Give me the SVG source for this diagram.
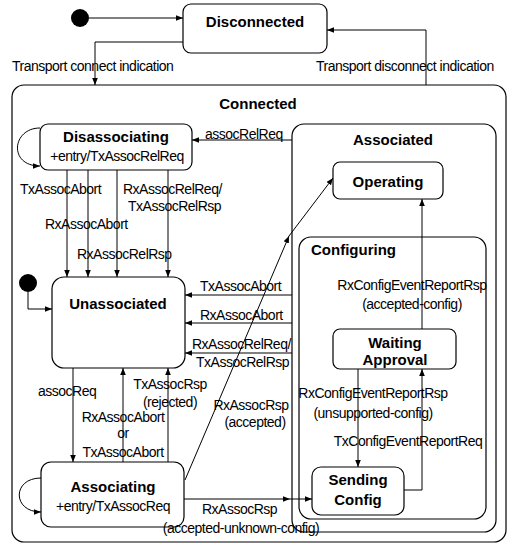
<svg xmlns="http://www.w3.org/2000/svg" width="512" height="547" viewBox="0 0 512 547">
<style>
.st{fill:#fff;stroke:#000;stroke-width:1.2}
.dot{fill:#000}
.c{fill:none;stroke:#000;stroke-width:1}
.t{font-family:"Liberation Sans",Arial,sans-serif;font-size:14px;fill:#000;letter-spacing:-0.5px}
.b{font-family:"Liberation Sans",Arial,sans-serif;font-size:15px;font-weight:bold;fill:#000}
.m{text-anchor:middle}
</style>
<defs>
<marker id="ah" viewBox="0 0 10 10" refX="10" refY="5" markerWidth="7" markerHeight="7" orient="auto" markerUnits="userSpaceOnUse">
<path d="M0,1 L10,5 L0,9 Z" fill="#000"/>
</marker>
</defs>
<rect width="512" height="547" fill="#fff"/>

<g id="connected">
<rect class="st" x="12" y="85" width="494" height="457" rx="12"/>
<text class="b m" x="258" y="109">Connected</text>
</g>
<g id="associated">
<rect class="st" x="292" y="124" width="204" height="408" rx="12"/>
<text class="b m" x="393" y="145">Associated</text>
</g>
<g id="configuring">
<rect class="st" x="299" y="237" width="187" height="282" rx="12"/>
<text class="b" x="311" y="255">Configuring</text>
</g>

<g id="initial1"><circle class="dot" cx="80" cy="18" r="9"/></g>
<g id="disconnected">
<rect class="st" x="183" y="4" width="144" height="49" rx="8"/>
<text class="b m" x="255" y="27">Disconnected</text>
</g>
<g id="disassociating">
<rect class="st" x="40" y="124" width="152" height="46" rx="8"/>
<text class="b m" x="116" y="142">Disassociating</text>
<text class="t m" x="117" y="161">+entry/TxAssocRelReq</text>
</g>
<g id="operating">
<rect class="st" x="333" y="162" width="110" height="37" rx="7"/>
<text class="b m" x="388" y="187">Operating</text>
</g>
<g id="initial2"><circle class="dot" cx="28" cy="283" r="9"/></g>
<g id="unassociated">
<rect class="st" x="52" y="277" width="133" height="91" rx="12"/>
<text class="b m" x="118" y="309">Unassociated</text>
</g>
<g id="waitingApproval">
<rect class="st" x="333" y="329" width="123" height="40" rx="7"/>
<text class="b m" x="395" y="348">Waiting</text>
<text class="b m" x="395" y="365">Approval</text>
</g>
<g id="associating">
<rect class="st" x="41" y="462" width="143" height="65" rx="10"/>
<text class="b m" x="113" y="492">Associating</text>
<text class="t m" x="113" y="511">+entry/TxAssocReq</text>
</g>
<g id="sendingConfig">
<rect class="st" x="312" y="467" width="92" height="48" rx="9"/>
<text class="b m" x="358" y="485">Sending</text>
<text class="b m" x="358" y="505">Config</text>
</g>

<g id="connectors">
<path class="c" d="M89,18 H183" marker-end="url(#ah)"/>
<path class="c" d="M183,42 H95 V85" marker-end="url(#ah)"/>
<path class="c" d="M426,85 V30 H327" marker-end="url(#ah)"/>
<path class="c" d="M40,128 C12,128 8,166 40,166" marker-end="url(#ah)"/>
<path class="c" d="M292,140 H192" marker-end="url(#ah)"/>
<path class="c" d="M67,170 V277" marker-end="url(#ah)"/>
<path class="c" d="M88,170 V277" marker-end="url(#ah)"/>
<path class="c" d="M117,170 V277" marker-end="url(#ah)"/>
<path class="c" d="M168,170 V277" marker-end="url(#ah)"/>
<path class="c" d="M28,292 V309 H52" marker-end="url(#ah)"/>
<path class="c" d="M292,295 H185" marker-end="url(#ah)"/>
<path class="c" d="M292,323 H185" marker-end="url(#ah)"/>
<path class="c" d="M292,353 H185" marker-end="url(#ah)"/>
<path class="c" d="M73,368 V462" marker-end="url(#ah)"/>
<path class="c" d="M123,462 V368" marker-end="url(#ah)"/>
<path class="c" d="M168,462 V368" marker-end="url(#ah)"/>
<path class="c" d="M41,478 C12,478 12,512 41,512" marker-end="url(#ah)"/>
<path class="c" d="M185,480 L289,236" marker-end="url(#ah)"/>
<path class="c" d="M289,236 L333,178" marker-end="url(#ah)"/>
<path class="c" d="M184,499 H290" marker-end="url(#ah)"/>
<path class="c" d="M290,499 H312" marker-end="url(#ah)"/>
<path class="c" d="M422,329 V199" marker-end="url(#ah)"/>
<path class="c" d="M358,369 V467" marker-end="url(#ah)"/>
<path class="c" d="M404,490 H422 V369" marker-end="url(#ah)"/>

<text class="t" x="12" y="71">Transport connect indication</text>
<text class="t" x="316" y="71">Transport disconnect indication</text>
<text class="t" x="205" y="139">assocRelReq</text>
<text class="t" x="20" y="194">TxAssocAbort</text>
<text class="t" x="123" y="194">RxAssocRelReq/</text>
<text class="t" x="128" y="211">TxAssocRelRsp</text>
<text class="t" x="45" y="229">RxAssocAbort</text>
<text class="t" x="77" y="259">RxAssocRelRsp</text>
<text class="t" x="200" y="291">TxAssocAbort</text>
<text class="t" x="200" y="320">RxAssocAbort</text>
<text class="t" x="192" y="349">RxAssocRelReq/</text>
<text class="t" x="196" y="367">TxAssocRelRsp</text>
<text class="t m" x="412" y="290">RxConfigEventReportRsp</text>
<text class="t m" x="412" y="309">(accepted-config)</text>
<text class="t m" x="373" y="398">RxConfigEventReportRsp</text>
<text class="t m" x="373" y="418">(unsupported-config)</text>
<text class="t m" x="408" y="446">TxConfigEventReportReq</text>
<text class="t" x="38" y="396">assocReq</text>
<text class="t m" x="170" y="389">TxAssocRsp</text>
<text class="t m" x="170" y="407">(rejected)</text>
<text class="t m" x="251" y="410">RxAssocRsp</text>
<text class="t m" x="255" y="427">(accepted)</text>
<text class="t m" x="123" y="422">RxAssocAbort</text>
<text class="t m" x="123" y="438">or</text>
<text class="t m" x="123" y="457">TxAssocAbort</text>
<text class="t" x="202" y="514">RxAssocRsp</text>
<text class="t m" x="241" y="533">(accepted-unknown-config)</text>
</g>
</svg>
